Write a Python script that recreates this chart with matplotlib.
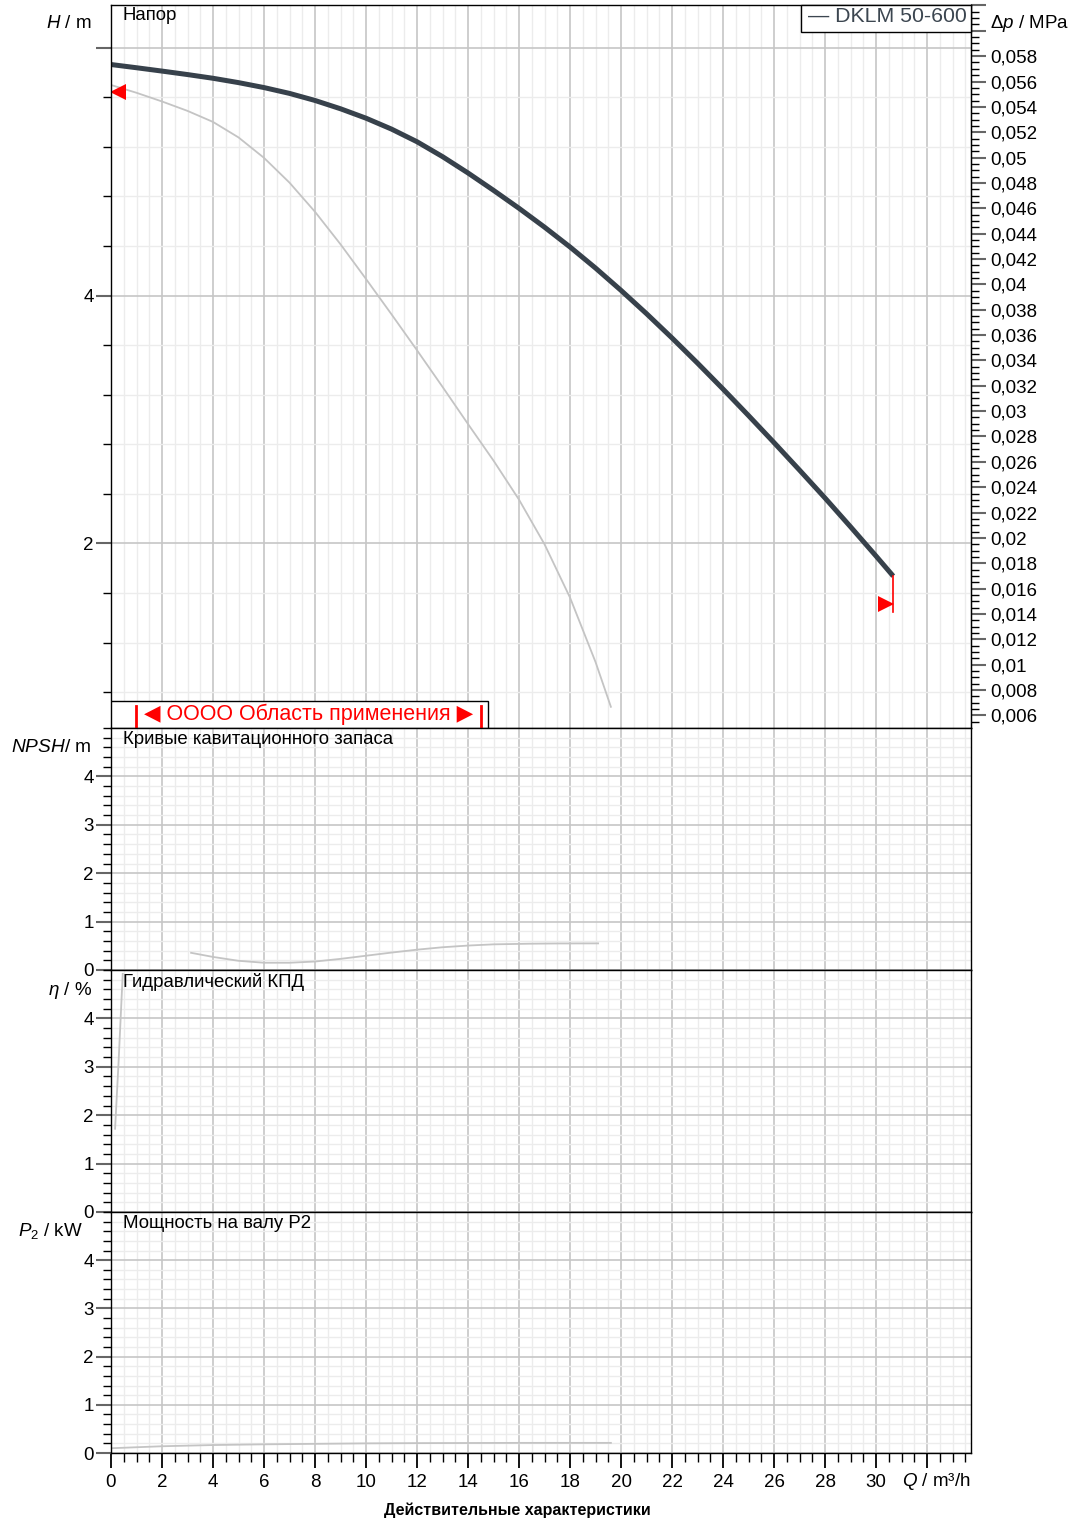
import numpy as np
import matplotlib
matplotlib.use('Agg')
import matplotlib.pyplot as plt
from matplotlib.ticker import MultipleLocator, FixedLocator, FuncFormatter
from matplotlib.patches import Rectangle

# размеры картинки в пикселях
W, H = 1072, 1519

# --- данные ---
# напорная характеристика DKLM 50-600
q_head = [0, 1, 2, 3, 4, 5, 6, 7, 8, 9, 10, 11, 12, 13, 14, 15, 16, 17, 18, 19,
          20, 21, 22, 23, 24, 25, 26, 27, 28, 29, 30, 30.67]
h_head = [5.863, 5.837, 5.810, 5.782, 5.752, 5.717, 5.677, 5.630, 5.573, 5.506,
          5.430, 5.342, 5.240, 5.120, 4.988, 4.848, 4.703, 4.551, 4.391, 4.221,
          4.041, 3.853, 3.657, 3.454, 3.245, 3.031, 2.813, 2.591, 2.366, 2.134,
          1.898, 1.737]
# серая кривая напора
q_grey = [0, 1, 2, 3, 4, 5, 6, 7, 8, 9, 10, 11, 12, 13, 14, 15, 16, 17, 18, 19, 19.6]
h_grey = [5.698, 5.635, 5.565, 5.489, 5.400, 5.275, 5.110, 4.910, 4.675, 4.413,
          4.133, 3.848, 3.558, 3.263, 2.963, 2.668, 2.353, 1.993, 1.563, 1.043, 0.683]
# NPSH
q_npsh = [3.14, 4, 5, 6, 7, 8, 9, 10, 11, 12, 13, 14, 15, 16.4, 17.5, 19.1]
npsh = [0.355, 0.27, 0.19, 0.15, 0.15, 0.175, 0.23, 0.295, 0.36, 0.42, 0.47,
        0.505, 0.53, 0.543, 0.548, 0.55]
# КПД
q_eta = [0.16, 0.30, 0.46]
eta = [1.72, 3.13, 4.92]
# мощность P2
q_p2 = [0.06, 2, 4, 6, 8, 10, 12, 16, 19.6]
p2 = [0.10, 0.14, 0.165, 0.18, 0.19, 0.20, 0.205, 0.21, 0.21]
# красные метки (границы)
q_mark_min, h_mark_min = 0.294, 5.641
q_mark_max, h_mark_max = 30.37, 1.512
q_bar_min = [0, 0]
h_bar_min = [5.863, 5.60]
q_bar_max = [30.67, 30.67]
h_bar_max = [1.737, 1.45]
# область применения
app_box = [0, 14.78]
app_q = [0.98, 14.51]

x_labels = [str(v) for v in range(0, 31, 2)] + ['']
rho_g = 0.00978  # MPa на метр

# --- шрифты ---
plt.rcParams['font.family'] = ['Liberation Sans', 'DejaVu Sans']
plt.rcParams['mathtext.fontset'] = 'custom'
plt.rcParams['mathtext.rm'] = 'Liberation Sans'
plt.rcParams['mathtext.it'] = 'Liberation Sans:italic'
plt.rcParams['mathtext.bf'] = 'Liberation Sans:bold'

fig = plt.figure(figsize=(W / 100, H / 100), dpi=100)


def px_axes(top, bottom):
    return fig.add_axes([111 / W, 1 - bottom / H, 860 / W, (bottom - top) / H])


def fx(x):
    return x / W


def fy(y):
    return 1 - y / H


ax_h = px_axes(5, 728)
ax_n = px_axes(728, 970)
ax_e = px_axes(970, 1212)
ax_p = px_axes(1212, 1453)
axes = [ax_h, ax_n, ax_e, ax_p]

for ax in axes:
    ax.set_xlim(0, 33.72)
    ax.set_axisbelow(True)
    ax.xaxis.set_major_locator(MultipleLocator(2))
    ax.xaxis.set_minor_locator(MultipleLocator(0.5))
    ax.grid(which='major', color='#c6c6c6', lw=1.2)
    ax.grid(which='minor', color='#ececec', lw=1.0)
    for s in ax.spines.values():
        s.set_color('black')
        s.set_linewidth(1.0)
    ax.tick_params(axis='y', which='major', direction='out', length=10.5, width=1.5,
                   color='#666666', labelsize=13.5, pad=2)
    ax.tick_params(axis='y', which='minor', direction='out', length=6, width=1,
                   color='black')
    if ax is not ax_p:
        ax.tick_params(axis='x', which='both', bottom=False, labelbottom=False)

# Напор
ax_h.set_ylim(0.512, 6.343)
ax_h.yaxis.set_major_locator(FixedLocator([2, 4, 6]))
ax_h.yaxis.set_major_formatter(FuncFormatter(lambda v, p: '' if v > 5 else f'{v:g}'))
ax_h.yaxis.set_minor_locator(MultipleLocator(0.4))
ax_h.plot(q_grey, h_grey, color='#c4c4c4', lw=1.3)
ax_h.plot(q_head, h_head, color='#37414b', lw=3.6, solid_capstyle='butt',
          solid_joinstyle='round')
ax_h.plot(q_bar_min, h_bar_min, color='red', lw=1.2)
ax_h.plot(q_bar_max, h_bar_max, color='red', lw=1.2)
ax_h.plot(q_mark_min, h_mark_min, marker='<', color='red', ms=11.5, mew=0)
ax_h.plot(q_mark_max, h_mark_max, marker='>', color='red', ms=11.5, mew=0)

# шкала давления справа
sec = ax_h.secondary_yaxis('right', functions=(lambda h: h * rho_g, lambda p: p / rho_g))
sec.yaxis.set_major_locator(MultipleLocator(0.002))
sec.yaxis.set_minor_locator(MultipleLocator(0.0005))
sec.yaxis.set_major_formatter(FuncFormatter(
    lambda v, p: '' if v > 0.059 else f'{v:.3f}'.rstrip('0').replace('.', ',')))
sec.tick_params(which='major', length=10.5, width=1.5, color='#666666', labelsize=13.5, pad=3)
sec.tick_params(which='minor', length=6, width=1, color='black')

# область применения
app_tr = ax_h.get_xaxis_transform()
ax_h.add_patch(Rectangle((app_box[0], 0), app_box[1] - app_box[0], 27 / 723,
                         transform=app_tr, facecolor='white', edgecolor='black',
                         lw=1.0, zorder=5))
for q in app_q:
    ax_h.plot([q, q], [0, 22 / 723], transform=app_tr, color='red', lw=2, zorder=6)
ax_h.text(sum(app_q) / 2, 13.5 / 723, '◀ OOOO Область применения ▶', transform=app_tr,
          ha='center', va='center', color='red', fontsize=15.5, zorder=6)

# нижние панели
for ax in [ax_n, ax_e, ax_p]:
    ax.set_ylim(0, 5)
    ax.yaxis.set_major_locator(FixedLocator([0, 1, 2, 3, 4]))
    ax.yaxis.set_minor_locator(MultipleLocator(0.2))

ax_n.plot(q_npsh, npsh, color='#c4c4c4', lw=1.3)
ax_e.plot(q_eta, eta, color='#c4c4c4', lw=1.3)
ax_p.plot(q_p2, p2, color='#c4c4c4', lw=1.3)

ax_p.xaxis.set_major_formatter(FuncFormatter(lambda v, p: x_labels[int(round(v / 2))]
                                             if 0 <= round(v / 2) < len(x_labels) else ''))
ax_p.tick_params(axis='x', which='major', direction='out', length=11, width=1.3,
                 color='black', labelsize=13.5, pad=4)
ax_p.tick_params(axis='x', which='minor', direction='out', length=6.5, width=1,
                 color='black')

# легенда
fig.patches.append(Rectangle((fx(801), fy(32)), 170 / W, 27 / H, transform=fig.transFigure,
                             facecolor='white', edgecolor='black', lw=1.0, zorder=10))
fig.text(fx(808), fy(17), '— DKLM 50-600', ha='left', va='center', fontsize=15.3,
         color='#3c4650', zorder=11)

# подписи осей
fig.text(fx(92), fy(23), r'$H$ / m', ha='right', va='center', fontsize=13.5)
fig.text(fx(990), fy(23), r'$\Delta p$ / MPa', ha='left', va='center', fontsize=13.5)
fig.text(fx(92), fy(748), r'$NPSH$/ m', ha='right', va='center', fontsize=13.8)
fig.text(fx(92), fy(991), r'$\eta$ / %', ha='right', va='center', fontsize=13.5)
fig.text(fx(83), fy(1231), r'$P_2$ / kW', ha='right', va='center', fontsize=13.5)
fig.text(fx(936), fy(1482), r'$Q$ / m³/h', ha='center', va='center', fontsize=13.5)

# заголовки панелей
fig.text(fx(123), fy(16), 'Напор', ha='left', va='center', fontsize=13.4)
fig.text(fx(123), fy(740), 'Кривые кавитационного запаса', ha='left', va='center', fontsize=13.4)
fig.text(fx(123), fy(982), 'Гидравлический КПД', ha='left', va='center', fontsize=13.4)
fig.text(fx(123), fy(1224), 'Мощность на валу P2', ha='left', va='center', fontsize=13.4)

fig.text(fx(517), fy(1510), 'Действительные характеристики', ha='center', va='center',
         fontsize=11.5, fontweight='bold')

plt.savefig('out.png', dpi=100)
